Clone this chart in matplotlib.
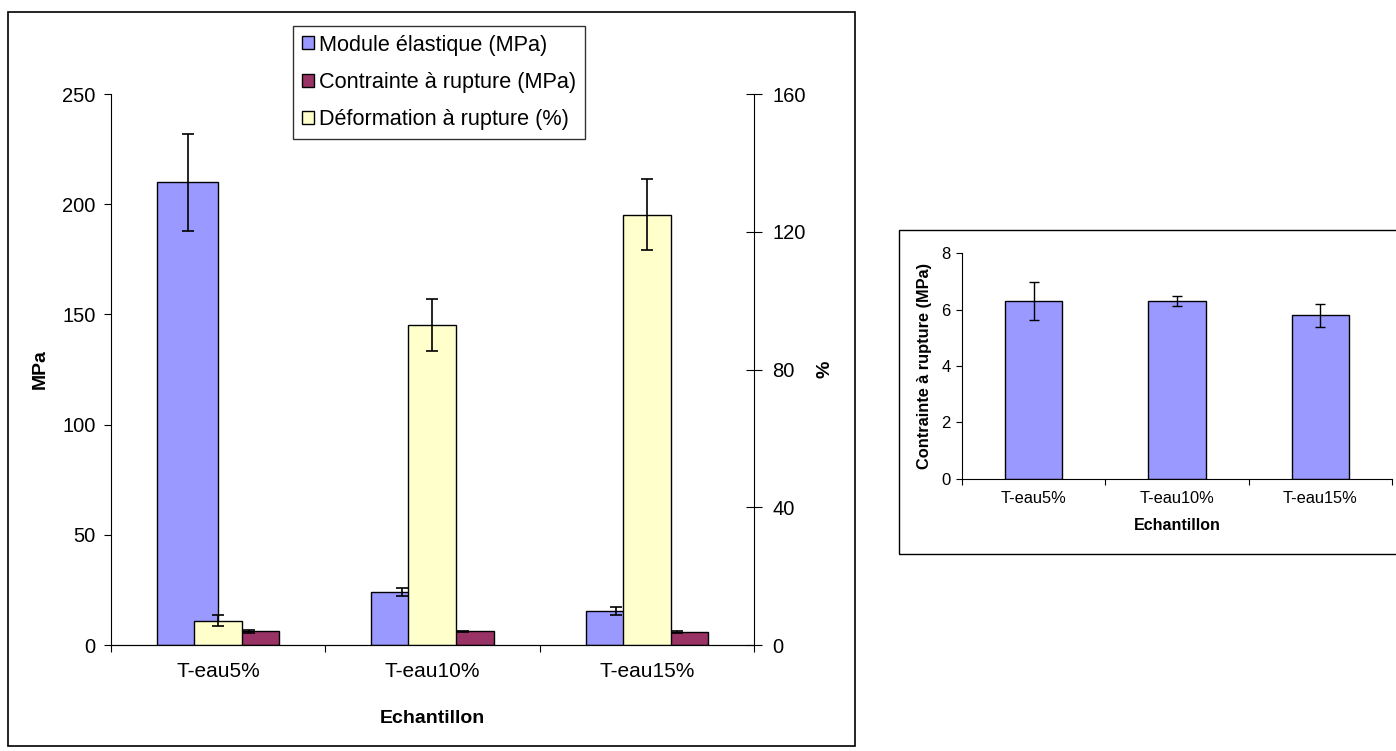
import numpy as np
import matplotlib
matplotlib.use("Agg")
from matplotlib import pyplot as plt
from matplotlib.patches import Rectangle, Patch

plt.rcParams["font.family"] = ["Liberation Sans", "DejaVu Sans"]

samples = ["T-eau5%", "T-eau10%", "T-eau15%"]
module = [210, 24, 15.5]
module_err = [22, 1.8, 1.8]
contrainte = [6.3, 6.3, 5.8]
contrainte_err = [0.68, 0.19, 0.41]
deformation = [7.1, 93, 125]
deformation_err = [1.6, 7.5, 10.2]

blue = "#9999FF"
maroon = "#993366"
yellow = "#FFFFCC"

fig = plt.figure(figsize=(13.96, 7.51), dpi=100)

# frames around the two charts
fig.patches.append(Rectangle((0.0057, 0.0067), 0.6067, 0.9774, transform=fig.transFigure,
                             fill=False, edgecolor="black", linewidth=1.2))
fig.patches.append(Rectangle((0.644, 0.2623), 0.4, 0.4314, transform=fig.transFigure,
                             fill=False, edgecolor="black", linewidth=1.0))

x = np.arange(len(samples))
w1 = 0.285
w2 = 0.224
ekw = dict(ecolor="black", elinewidth=1.2, capsize=4.3, capthick=1.2)

# main chart
ax = fig.add_axes([0.0795, 0.1411, 0.4606, 0.7337])
ax.bar(x - w1 / 2, module, w1, color=blue, edgecolor="black", linewidth=1.0)
ax.errorbar(x - w1 / 2, module, yerr=module_err, fmt="none", **ekw)
ax.bar(x + w1 / 2, contrainte, w1, color=maroon, edgecolor="black", linewidth=1.0)
ax.errorbar(x + w1 / 2, contrainte, yerr=contrainte_err, fmt="none", **ekw)
ax.set_xlim(-0.5, 2.5)
ax.set_ylim(0, 250)
ax.set_yticks([0, 50, 100, 150, 200, 250])
ax.set_xticks([-0.5, 0.5, 1.5, 2.5])
ax.set_xticklabels([])
ax.set_xticks(x, minor=True)
ax.set_xticklabels(samples, minor=True, fontsize=15)
ax.tick_params(axis="x", which="minor", length=0, pad=12)
ax.tick_params(axis="x", which="major", length=5, direction="out")
ax.tick_params(axis="y", length=5, pad=6, labelsize=14.5)
ax.spines["top"].set_visible(False)
ax.spines["right"].set_visible(False)
ax.set_ylabel("MPa", fontsize=14, fontweight="bold", labelpad=10)
ax.set_xlabel("Echantillon", fontsize=14, fontweight="bold", labelpad=21)

ax2 = ax.twinx()
ax2.bar(x, deformation, w2, color=yellow, edgecolor="black", linewidth=1.0)
ax2.errorbar(x, deformation, yerr=deformation_err, fmt="none", **ekw)
ax2.set_ylim(0, 160)
ax2.set_yticks([0, 40, 80, 120, 160])
ax2.tick_params(axis="y", direction="inout", length=12, pad=7, labelsize=14.5)
ax2.spines["top"].set_visible(False)
ax2.spines["left"].set_visible(False)
ax2.set_ylabel("%", fontsize=14, fontweight="bold", labelpad=8)

handles = [Patch(facecolor=blue, edgecolor="black"),
           Patch(facecolor=maroon, edgecolor="black"),
           Patch(facecolor=yellow, edgecolor="black")]
labels = ["Module élastique (MPa)", "Contrainte à rupture (MPa)", "Déformation à rupture (%)"]
leg = fig.legend(handles, labels, loc="upper left", bbox_to_anchor=(0.21, 0.966),
                 fontsize=15.6, frameon=True, fancybox=False, edgecolor="black",
                 handlelength=0.55, handleheight=0.55, handletextpad=0.2,
                 labelspacing=0.75, borderpad=0.42, borderaxespad=0)
leg.get_frame().set_linewidth(1.0)

# inset chart
axi = fig.add_axes([0.6891, 0.3622, 0.308, 0.3009])
axi.bar(x, contrainte, 0.4, color=blue, edgecolor="black", linewidth=1.0)
axi.errorbar(x, contrainte, yerr=contrainte_err, fmt="none", ecolor="black",
             elinewidth=1.0, capsize=3.5, capthick=1.0)
axi.set_xlim(-0.5, 2.5)
axi.set_ylim(0, 8)
axi.set_yticks([0, 2, 4, 6, 8])
axi.set_xticks([-0.5, 0.5, 1.5, 2.5])
axi.set_xticklabels([])
axi.set_xticks(x, minor=True)
axi.set_xticklabels(samples, minor=True, fontsize=11.8)
axi.tick_params(axis="x", which="minor", length=0, pad=9)
axi.tick_params(axis="x", which="major", length=4, direction="out")
axi.tick_params(axis="y", length=4, pad=4, labelsize=12)
axi.spines["top"].set_visible(False)
axi.spines["right"].set_visible(False)
axi.set_ylabel("Contrainte à rupture (MPa)", fontsize=11.8, fontweight="bold", labelpad=7)
axi.set_xlabel("Echantillon", fontsize=11.5, fontweight="bold", labelpad=8)

fig.savefig("out.png", dpi=100)
